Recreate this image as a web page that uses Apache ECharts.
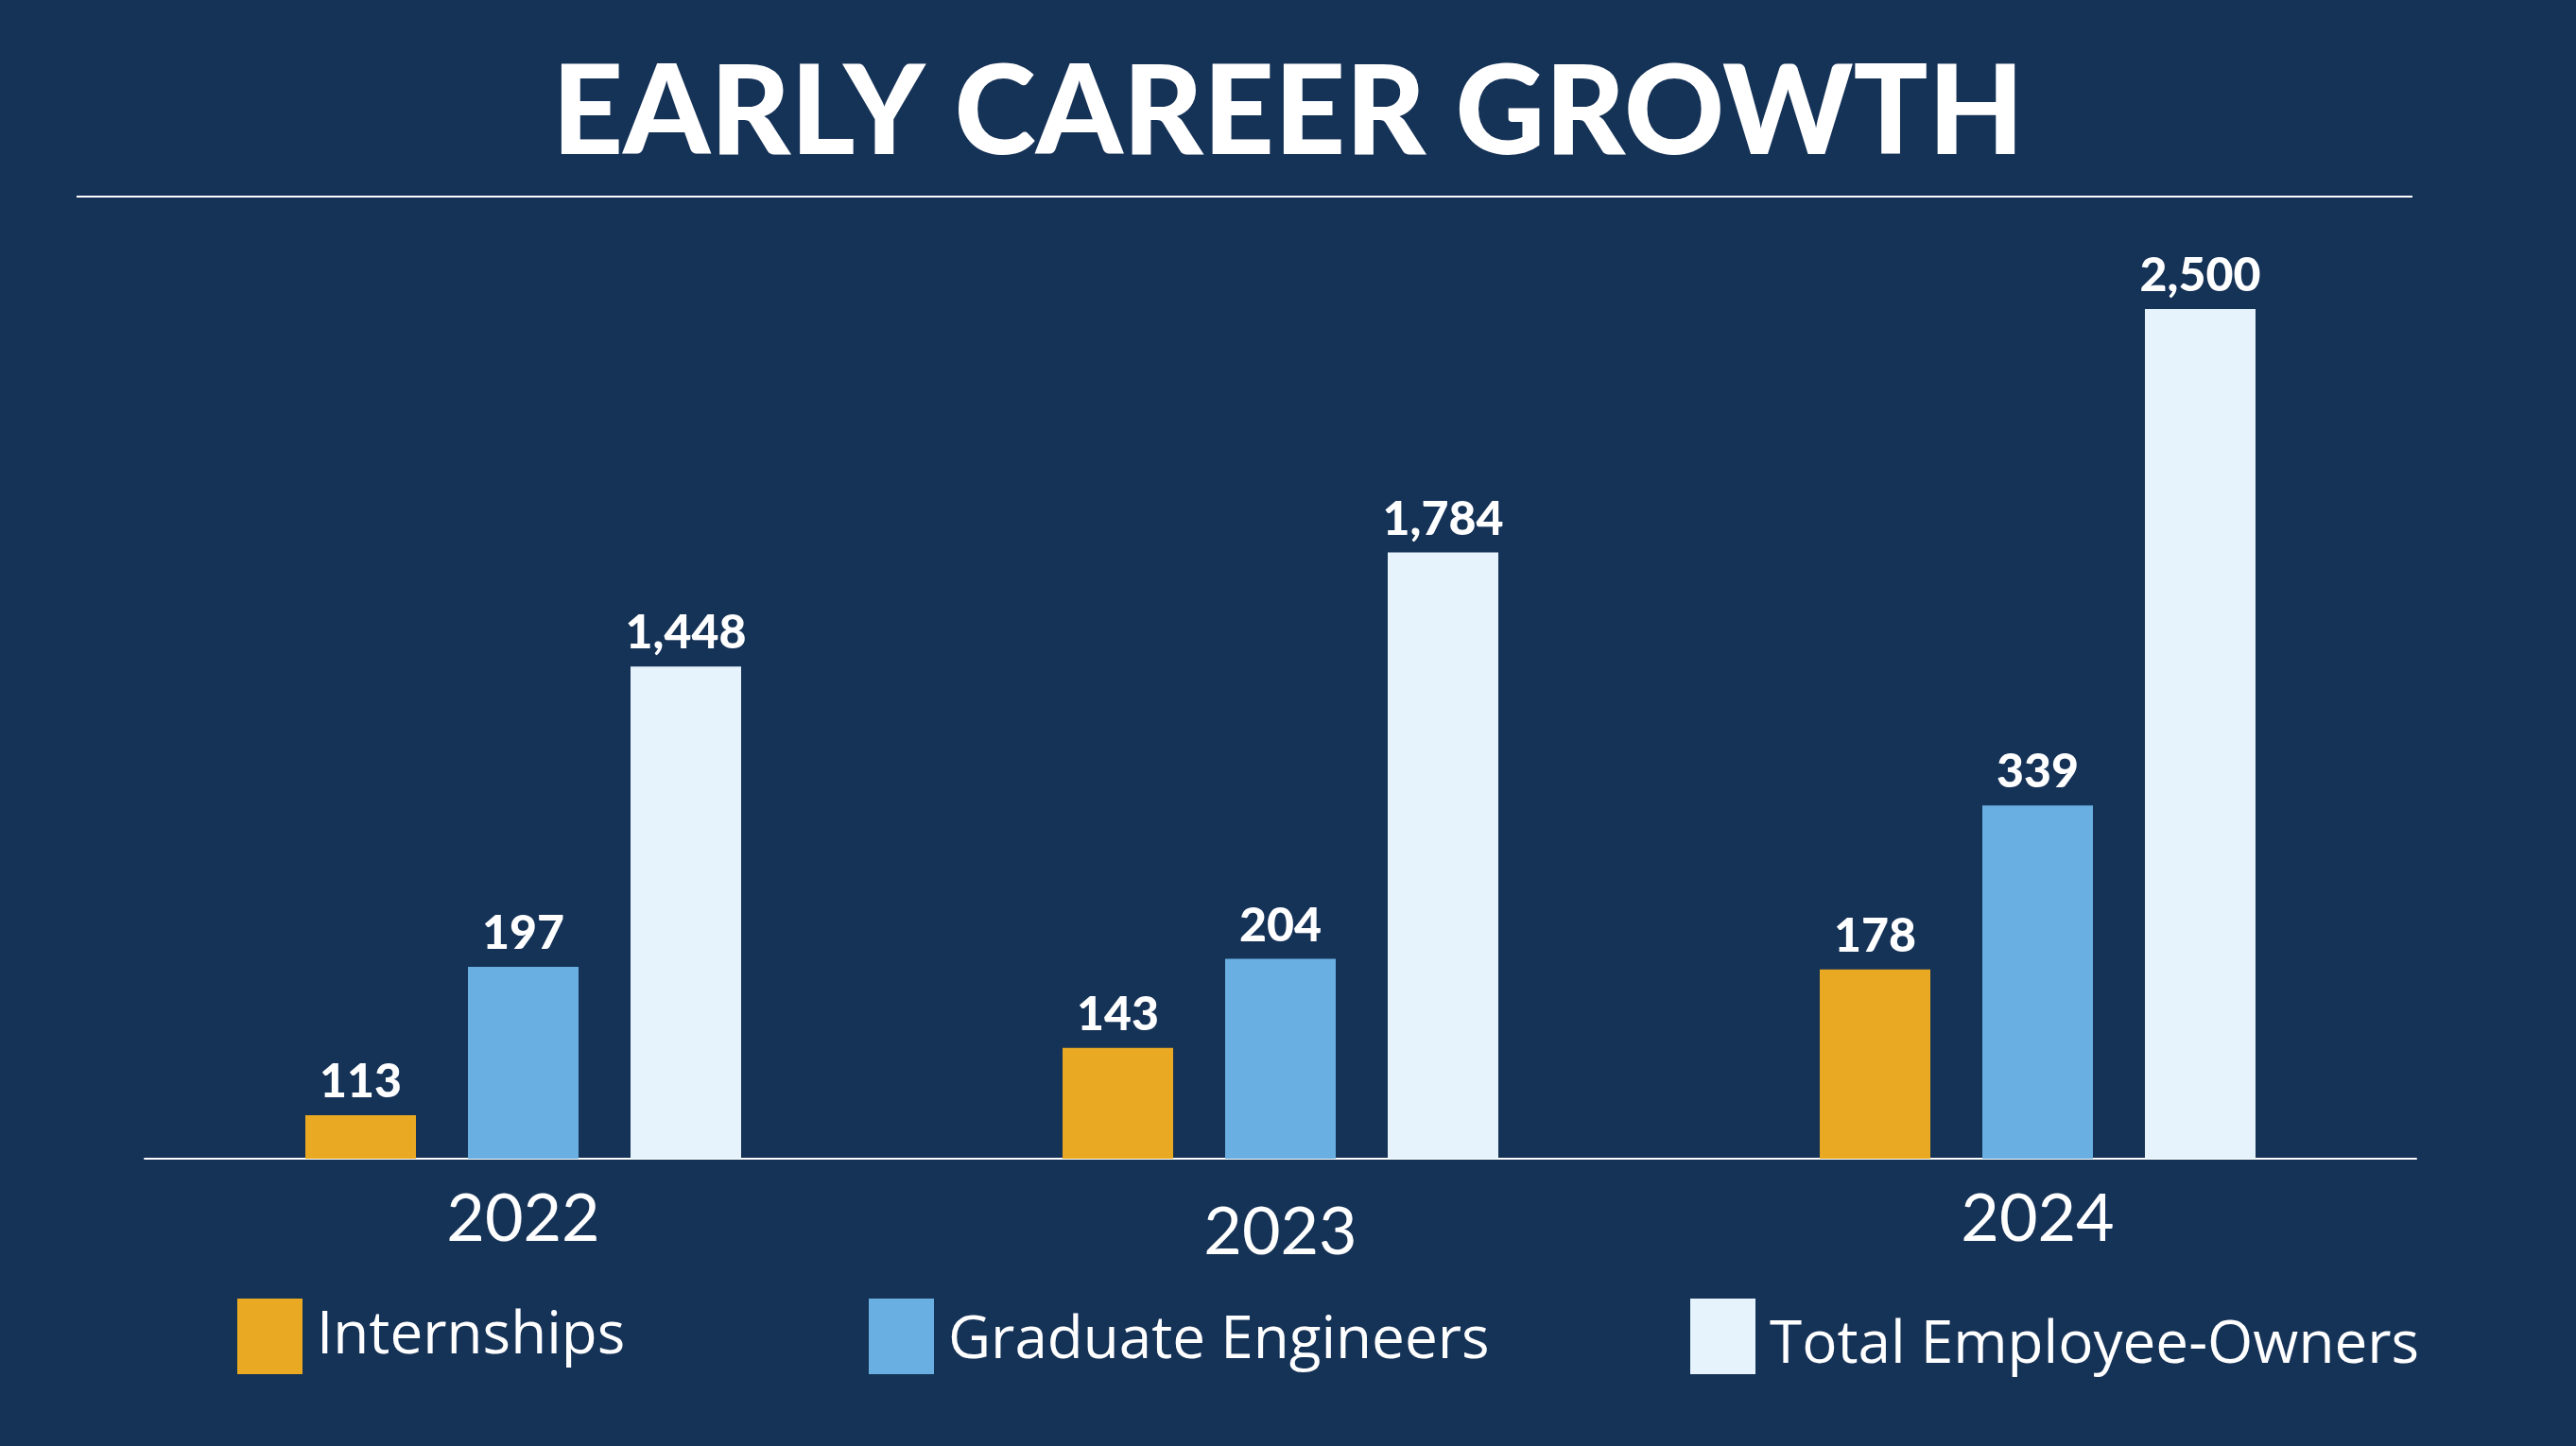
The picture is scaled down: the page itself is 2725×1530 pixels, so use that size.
<!DOCTYPE html>
<html>
<head>
<meta charset="utf-8">
<script src="https://cdn.jsdelivr.net/npm/echarts@6/dist/echarts.min.js"></script>
<style>
  html, body { margin: 0; padding: 0; background: #153257; }
  #chart { width: 2725px; height: 1530px; }
</style>
</head>
<body>
<div id="chart"></div>
<script>
// ---- data ----
const years = ['2022', '2023', '2024'];
const internships = [113, 143, 178];
const graduateEngineers = [197, 204, 339];
const totalEmployeeOwners = [1448, 1784, 2500];
const seriesNames = ['Internships', 'Graduate Engineers', 'Total Employee-Owners'];
const titleText = 'EARLY CAREER GROWTH';

// ---- style ----
const BG = '#153257';
const COLORS = ['#EAA922', '#69AFE1', '#E6F3FD'];
const FONT = 'Lato';
const LEGEND_FONT = 'Open Sans';

const chart = echarts.init(document.getElementById('chart'), null, { renderer: 'canvas' });

const labelStyle = {
  show: true,
  position: 'top',
  distance: 10,
  color: '#ffffff',
  fontFamily: FONT,
  fontWeight: 900,
  fontSize: 50,
  formatter: p => p.value.toLocaleString('en-US')
};

// shift: vertical offset of the legend text (px, positive = down)
function legendAt(name, left, shift) {
  const pad = shift >= 0 ? [2 * shift, 0, 0, 0] : [0, 0, -2 * shift, 0];
  return {
    data: [name],
    left: left,
    top: 1369,
    itemWidth: 69,
    itemHeight: 80,
    itemGap: 0,
    icon: 'rect',
    selectedMode: false,
    formatter: n => '{t|' + n + '}',
    textStyle: {
      color: '#ffffff',
      fontFamily: LEGEND_FONT,
      fontSize: 62,
      rich: {
        t: { color: '#ffffff', fontFamily: LEGEND_FONT, fontSize: 62, padding: [pad[0], 0, pad[2], 10] }
      }
    }
  };
}

const option = {
  backgroundColor: BG,
  animation: false,
  title: {
    text: titleText,
    left: 'center',
    top: 50,
    textStyle: { color: '#ffffff', fontFamily: FONT, fontWeight: 900, fontSize: 131 }
  },
  graphic: [{
    type: 'line',
    shape: { x1: 81, y1: 208, x2: 2552, y2: 208 },
    style: { stroke: '#ffffff', lineWidth: 2 }
  }],
  legend: [
    legendAt(seriesNames[0], 246, 0),
    legendAt(seriesNames[1], 914, 5),
    legendAt(seriesNames[2], 1783, 10)
  ],
  grid: { left: 153, right: 169, top: 327, bottom: 304 },
  xAxis: {
    type: 'category',
    data: years,
    axisLine: { show: true, lineStyle: { color: '#ffffff', width: 2 } },
    axisTick: { show: false },
    axisLabel: {
      margin: 29,
      color: '#ffffff',
      fontFamily: FONT,
      fontSize: 70,
      formatter: v => (v === '2023' ? '{low|' + v + '}' : '{n|' + v + '}'),
      rich: {
        n: { color: '#ffffff', fontFamily: FONT, fontSize: 70 },
        low: { color: '#ffffff', fontFamily: FONT, fontSize: 70, padding: [14, 0, 0, 0] }
      }
    }
  },
  yAxis: [
    { type: 'value', min: 0, max: 2500, show: false, splitLine: { show: false } },
    { type: 'value', min: 93.6, max: 472.7, show: false, splitLine: { show: false } },
    { type: 'value', min: 28, max: 776, show: false, splitLine: { show: false } }
  ],
  series: [
    {
      name: seriesNames[0], type: 'bar', yAxisIndex: 1, data: internships,
      barWidth: 117, barGap: '47%',
      itemStyle: { color: COLORS[0] }, label: labelStyle
    },
    {
      name: seriesNames[1], type: 'bar', yAxisIndex: 2, data: graduateEngineers,
      barWidth: 117, barGap: '47%',
      itemStyle: { color: COLORS[1] }, label: labelStyle
    },
    {
      name: seriesNames[2], type: 'bar', yAxisIndex: 0, data: totalEmployeeOwners,
      barWidth: 117, barGap: '47%',
      itemStyle: { color: COLORS[2] }, label: labelStyle
    }
  ]
};

chart.setOption(option);
</script>
</body>
</html>
